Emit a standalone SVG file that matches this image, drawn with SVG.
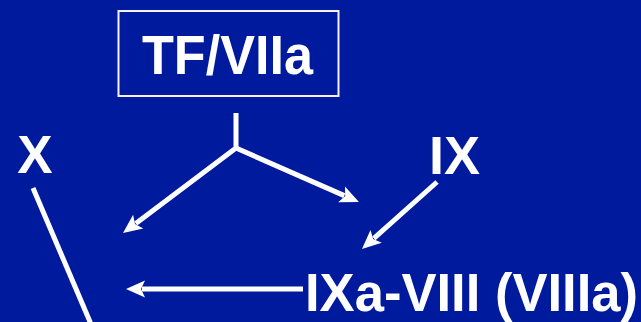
<svg xmlns="http://www.w3.org/2000/svg" width="641" height="322" viewBox="0 0 641 322">
  <style>
    .lbl { font-family: "Liberation Sans", Arial, Helvetica, sans-serif; font-weight: bold; fill: #ffffff; }
    .wire { fill: none; stroke: #ffffff; stroke-width: 5; stroke-linecap: butt; stroke-linejoin: miter; }
    .box { fill: none; stroke: #f2f2f8; stroke-width: 2; }
  </style>
  <defs>
    <marker id="head" markerUnits="userSpaceOnUse" viewBox="-4 -10 22 20" markerWidth="22" markerHeight="20" refX="0" refY="0" orient="auto" overflow="visible">
      <path d="M16,0 L-3,-8.5 L1,0 L-3,8.5 Z" fill="#ffffff"/>
    </marker>
  </defs>

  <rect width="641" height="322" fill="#001a9e"/>

  <g id="tf-viia">
    <rect class="box" x="118.5" y="11" width="220" height="85"/>
    <text class="lbl" x="227.5" y="74" font-size="56" text-anchor="middle" textLength="171" lengthAdjust="spacingAndGlyphs">TF/VIIa</text>
  </g>

  <g id="x">
    <text class="lbl" x="35" y="173" font-size="53" text-anchor="middle">X</text>
  </g>

  <g id="ix">
    <text class="lbl" x="454.5" y="174" font-size="54" text-anchor="middle">IX</text>
  </g>

  <g id="ixa-viii">
    <text class="lbl" x="305" y="311" font-size="54" textLength="333" lengthAdjust="spacingAndGlyphs">IXa-VIII (VIIIa)</text>
  </g>

  <g id="connectors">
    <path class="wire" d="M236,113 L236,148 L135.8,223.4" marker-end="url(#head)"/>
    <path class="wire" d="M236,148 L344.3,195.6" marker-end="url(#head)"/>
    <path class="wire" d="M437,182 L373.9,238.3" marker-end="url(#head)"/>
    <path class="wire" d="M303,289 L142,289" stroke-width="6" marker-end="url(#head)"/>
    <path class="wire" d="M33,188 L93.5,330"/>
  </g>
</svg>
